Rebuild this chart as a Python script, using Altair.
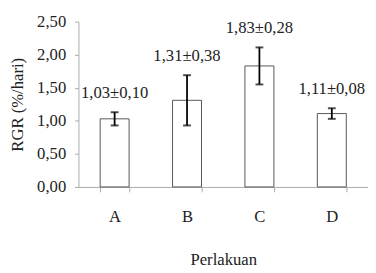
import altair as alt
import pandas as pd

categories = ["A", "B", "C", "D"]
means = [1.03, 1.31, 1.83, 1.11]
sds = [0.10, 0.38, 0.28, 0.08]
y_ticks = [0, 0.5, 1.0, 1.5, 2.0, 2.5]

def fmt(v):
    return f"{v:.2f}".replace(".", ",")

df = pd.DataFrame({
    "cat": categories,
    "mean": means,
    "lo": [m - s for m, s in zip(means, sds)],
    "hi": [m + s for m, s in zip(means, sds)],
    "label": [f"{fmt(m)}±{fmt(s)}" for m, s in zip(means, sds)],
})

FONT = "Liberation Serif"

xaxis = alt.Axis(
    title="Perlakuan",
    labelAngle=0,
    tickBand="extent",
    tickSize=5,
    labelPadding=17,
    titleY=79,
    titleBaseline="alphabetic",
)
yaxis = alt.Axis(
    title="RGR (%/hari)",
    values=y_ticks,
    labelExpr="replace(format(datum.value, '.2f'), '.', ',')",
    tickSize=4,
    labelPadding=9,
    labelOverlap=False,
    grid=False,
    titleX=-62,
    titleY=84.5,
    titleAngle=-90,
    titleBaseline="middle",
    titleAlign="center",
)
xscale = alt.Scale(paddingInner=0.6, paddingOuter=0.3)
yscale = alt.Scale(domain=[0, 2.5], nice=False)

xenc = alt.X("cat:N", sort=categories, scale=xscale, axis=xaxis)

def yenc(field):
    return alt.Y(field, type="quantitative", scale=yscale, axis=yaxis)

base = alt.Chart(df)

bars = base.mark_bar(fill="white", stroke="#555555", strokeWidth=1).encode(
    x=xenc, y=yenc("mean")
)

rules = base.mark_rule(color="black", strokeWidth=1.8).encode(
    x=xenc, y=yenc("lo"), y2="hi:Q"
)

caps_hi = base.mark_tick(color="black", size=8, thickness=2).encode(
    x=xenc, y=yenc("hi")
)
caps_lo = base.mark_tick(color="black", size=8, thickness=2).encode(
    x=xenc, y=yenc("lo")
)

labels = base.mark_text(
    font=FONT, fontSize=17, color="#222222", baseline="alphabetic", dy=-15
).encode(x=xenc, y=yenc("hi"), text="label:N")

chart = (
    alt.layer(bars, rules, caps_hi, caps_lo, labels)
    .properties(
        width=296,
        height=169,
        autosize=alt.AutoSizeParams(type="none"),
        padding={"left": 72, "top": 11, "right": 0, "bottom": 84},
        background="white",
    )
    .configure_view(stroke=None)
    .configure_axis(
        domainColor="#aaaaaa",
        tickColor="#aaaaaa",
        labelFont=FONT,
        titleFont=FONT,
        labelFontSize=17,
        titleFontSize=17,
        labelColor="#222222",
        titleColor="#222222",
        titleFontWeight="normal",
    )
)

chart.save("out.html", embed_options={"renderer": "svg", "actions": False})
